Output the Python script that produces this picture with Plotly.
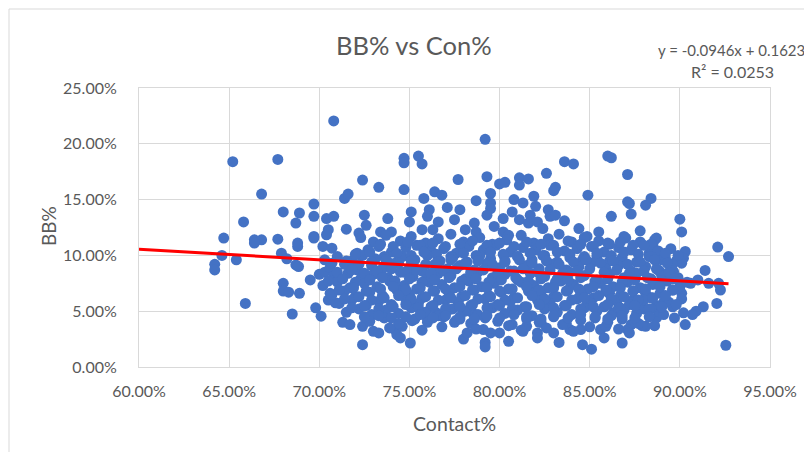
import numpy as np
import plotly.graph_objects as go

# trendline as printed on the chart
slope = -0.0946
intercept = 0.1623

# values in percent (contact %, BB %)
outer_con = [70.8, 79.2, 65.2, 67.7, 74.7, 74.7, 75.5, 75.7, 83.6, 84.1, 86.0, 86.2,
             72.4, 73.3, 74.7, 71.4, 71.6, 66.8, 69.7, 68.9, 69.7, 70.4,
             70.8, 72.5, 72.6, 73.8, 75.1, 75.0, 75.8, 76.1, 76.0, 76.4,
             76.8, 77.1, 77.7, 77.5, 76.6, 70.5, 71.5, 72.2, 73.4, 74.0,
             75.7, 76.3, 68.7, 69.7, 65.8, 68.0]
outer_bb = [22.05, 20.4, 18.4, 18.6, 18.7, 18.3, 18.9, 18.2, 18.4, 18.2, 18.9, 18.75,
            16.75, 16.1, 15.9, 15.1, 15.5, 15.5, 14.6, 13.8, 13.5, 13.3,
            13.5, 13.6, 12.7, 13.3, 13.9, 13.0, 15.1, 14.1, 13.5, 15.7,
            15.4, 14.3, 16.8, 13.2, 13.0, 12.3, 12.35, 12.0, 12.1, 12.1,
            12.3, 12.3, 12.9, 11.7, 13.0, 13.9]

mid_con = [79.3, 80.0, 80.3, 81.1, 81.6, 81.1, 82.6, 83.1, 83.0, 84.9,
           79.5, 78.7, 79.5, 79.5, 77.8, 79.3, 80.8, 81.3, 81.9, 82.0,
           82.7, 80.7, 81.1, 80.2, 79.7, 81.7, 81.6, 82.1, 82.8, 83.1,
           83.6, 82.4, 84.4, 86.2, 85.5, 78.6, 78.1, 78.7, 80.2, 80.5,
           84.85,
           87.1, 87.1, 87.2, 88.4, 88.1, 87.3, 90.0, 90.1, 87.8, 87.0, 88.7]
mid_bb = [17.05, 16.4, 16.55, 16.95, 16.85, 16.3, 17.35, 16.1, 15.8, 15.4,
          15.55, 14.9, 14.7, 14.2, 14.1, 13.6, 15.0, 14.7, 15.3, 14.4,
          14.1, 13.9, 13.2, 13.3, 12.6, 13.6, 12.9, 13.0, 13.5, 13.6,
          13.1, 12.4, 12.4, 13.5, 12.1, 12.9, 12.3, 12.1, 12.1, 11.8,
          11.7,
          17.25, 14.8, 14.65, 15.1, 14.5, 13.7, 13.25, 12.1, 12.2, 11.55, 11.55]

left_con = [64.7, 64.6, 64.2, 64.2, 65.4, 65.9, 66.4, 66.8, 66.4, 67.7,
            67.9, 68.2, 68.0, 68.0, 68.3, 68.8, 68.8, 68.7, 68.9, 68.5,
            69.7, 70.4, 70.2, 70.7, 72.1, 68.85, 69.5, 70.0, 70.3, 69.8,
            70.1, 70.6, 70.5, 70.9, 71.3, 71.7, 72.4, 72.4, 73.0, 73.3,
            74.2, 74.3, 74.6, 75.05, 75.15, 76.0, 76.5, 77.2, 77.5]
left_bb = [11.55, 10.0, 9.2, 8.7, 9.6, 5.7, 11.4, 11.4, 11.1, 11.45,
           10.2, 9.7, 7.5, 6.8, 6.7, 10.8, 11.1, 9.15, 6.6, 4.75,
           11.55, 11.85, 10.8, 10.65, 10.2, 9.0, 7.8, 8.3, 8.5, 5.3,
           4.55, 6.6, 6.0, 5.75, 4.0, 3.8, 3.65, 2.0, 3.2, 3.05,
           3.35, 2.9, 3.65, 2.15, 4.15, 4.3, 4.85, 5.15, 4.0]

low_con = [79.2, 79.2, 78.0, 78.2, 80.5, 80.0, 81.3, 82.1, 83.3, 83.0,
           84.6, 85.1, 83.9, 84.5, 85.6, 77.8, 78.5, 79.1, 79.5, 81.5,
           82.3, 85.9, 86.3, 86.1, 74.5, 82.1, 85.8]
low_bb = [2.2, 1.8, 2.5, 3.05, 2.3, 3.05, 3.2, 3.05, 2.2, 3.05,
          2.0, 1.6, 3.35, 3.35, 3.35, 4.3, 4.85, 3.35, 3.05, 3.65,
          4.0, 3.65, 4.85, 6.6, 2.6, 2.6, 2.6]

right_con = [88.6, 88.5, 92.1, 92.7, 90.3, 90.2, 90.1, 89.2, 88.3, 88.6,
             88.9, 89.0, 89.65, 91.4, 91.0, 91.6, 92.15, 92.25, 90.1, 92.05,
             91.3, 90.9, 90.7, 90.2, 89.7, 90.3, 88.7, 88.1, 87.9, 87.3,
             87.1, 87.2, 86.8, 92.55, 89.1, 89.6, 88.8, 88.0, 87.4, 88.1,
             88.4, 87.3, 86.6]
right_bb = [11.4, 10.95, 10.75, 9.9, 10.35, 9.75, 9.3, 9.75, 10.2, 9.9,
            8.55, 8.1, 8.55, 8.65, 7.8, 7.5, 7.5, 6.9, 6.6, 5.7,
            5.4, 5.0, 4.7, 4.85, 4.4, 3.8, 4.4, 3.65, 3.7, 3.8,
            3.35, 3.05, 2.15, 1.95, 5.8, 5.4, 5.0, 5.2, 6.0, 6.6,
            6.2, 5.75, 5.3]

# the dense cloud, read band by band from top to bottom
core_con = [
    72.3, 73.0, 73.7, 74.5, 75.1, 75.9, 76.6, 77.3, 78.0, 78.9, 79.6, 80.4, 81.2, 81.9, 82.7, 83.3, 84.0, 84.7, 85.5, 86.1, 86.9, 87.8, 88.4,
    72.7, 73.3, 74.0, 74.8, 75.4, 76.2, 76.9, 77.6, 78.3, 79.1, 79.8, 80.6, 81.3, 82.0, 82.8, 83.6, 84.3, 85.1, 85.8, 86.6, 87.3, 88.0, 88.8, 89.5,
    70.3, 71.0, 71.8, 72.4, 73.1, 73.8, 74.6, 75.3, 76.0, 76.7, 77.4, 78.2, 78.9, 79.5, 80.3, 81.0, 81.8, 82.5, 83.2, 83.9, 84.6, 85.4, 86.1, 86.8, 87.6, 88.3, 89.0, 89.8,
    70.6, 71.4, 72.1, 72.9, 73.5, 74.2, 75.0, 75.7, 76.4, 77.1, 77.8, 78.6, 79.3, 80.0, 80.8, 81.5, 82.2, 82.9, 83.7, 84.4, 85.1, 85.9, 86.6, 87.3, 88.1, 88.8, 89.6,
    70.8, 71.6, 72.3, 73.0, 73.8, 74.5, 75.2, 75.9, 76.6, 77.3, 78.1, 78.8, 79.6, 80.3, 81.0, 81.7, 82.5, 83.2, 83.9, 84.7, 85.4, 86.1, 86.9, 87.6, 88.4, 89.1, 89.9,
    70.2, 71.0, 71.7, 72.5, 73.2, 73.9, 74.7, 75.4, 76.1, 76.8, 77.5, 78.3, 79.0, 79.7, 80.5, 81.2, 81.9, 82.7, 83.4, 84.1, 84.9, 85.6, 86.3, 87.1, 87.8, 88.5, 89.3, 90.0, 90.6,
    70.7, 71.4, 72.0, 72.8, 73.5, 74.3, 75.0, 75.7, 76.4, 77.2, 77.9, 78.6, 79.4, 80.1, 80.8, 81.6, 82.3, 83.0, 83.8, 84.5, 85.2, 86.0, 86.7, 87.4, 88.2, 88.9, 89.6,
    71.1, 71.8, 72.6, 73.3, 74.0, 74.8, 75.5, 76.2, 77.0, 77.7, 78.4, 79.2, 79.9, 80.6, 81.4, 82.1, 82.8, 83.6, 84.3, 85.0, 85.8, 86.5, 87.2, 88.0, 88.7, 89.4, 90.1,
    71.5, 72.2, 72.9, 73.7, 74.4, 75.1, 75.9, 76.6, 77.4, 78.1, 78.8, 79.6, 80.3, 81.0, 81.8, 82.5, 83.2, 84.0, 84.7, 85.4, 86.2, 86.9, 87.6, 88.4, 89.1,
    72.8, 73.6, 74.4, 75.3, 76.0, 76.9, 77.6, 78.4, 79.2, 79.9, 80.7, 81.5, 82.2, 83.0, 83.7, 84.5, 85.3, 86.0, 86.8, 87.7,
    73.9, 75.7, 76.8, 78.7, 80.5, 81.2, 82.6, 83.5, 84.1, 85.0, 86.6, 88.6,
]
core_bb = [
    11.6, 11.2, 11.8, 11.3, 11.7, 11.1, 11.5, 11.9, 11.2, 11.6, 11.0, 11.4, 11.8, 11.1, 11.5, 11.9, 11.2, 11.6, 11.3, 11.0, 11.7, 11.2, 11.0,
    10.5, 10.8, 10.3, 10.7, 10.9, 10.4, 10.6, 10.2, 10.8, 10.5, 10.9, 10.3, 10.7, 10.5, 10.9, 10.4, 10.6, 10.8, 10.3, 10.7, 10.5, 10.9, 10.4, 10.6,
    9.6, 9.9, 9.5, 10.0, 9.7, 9.4, 9.9, 9.6, 10.0, 9.5, 9.8, 9.4, 10.0, 9.7, 9.5, 9.9, 9.6, 10.0, 9.4, 9.8, 9.6, 9.9, 9.5, 9.8, 9.4, 9.9, 9.6, 9.5,
    8.9, 9.2, 8.7, 9.1, 8.8, 9.3, 8.9, 8.6, 9.2, 8.8, 9.1, 8.7, 9.3, 8.9, 8.6, 9.1, 8.8, 9.2, 8.7, 9.0, 9.3, 8.8, 9.1, 8.6, 9.0, 8.7, 9.2,
    8.1, 8.4, 7.9, 8.3, 8.0, 8.5, 8.1, 7.8, 8.4, 8.2, 7.9, 8.5, 8.0, 8.3, 7.8, 8.4, 8.1, 7.9, 8.5, 8.2, 7.8, 8.3, 8.0, 8.4, 7.9, 8.2, 8.0,
    7.3, 7.6, 7.1, 7.5, 7.2, 7.7, 7.3, 7.0, 7.6, 7.4, 7.1, 7.7, 7.2, 7.5, 7.0, 7.6, 7.3, 7.1, 7.7, 7.4, 7.0, 7.5, 7.2, 7.6, 7.1, 7.4, 7.7, 7.2, 7.5,
    6.5, 6.8, 6.3, 6.7, 6.4, 6.9, 6.5, 6.2, 6.8, 6.6, 6.3, 6.9, 6.4, 6.7, 6.2, 6.8, 6.5, 6.3, 6.9, 6.6, 6.2, 6.7, 6.4, 6.8, 6.3, 6.6, 6.9,
    5.7, 6.0, 5.5, 5.9, 5.6, 6.1, 5.7, 5.4, 6.0, 5.8, 5.5, 6.1, 5.6, 5.9, 5.4, 6.0, 5.7, 5.5, 6.1, 5.8, 5.4, 5.9, 5.6, 6.0, 5.5, 5.8, 6.1,
    4.9, 5.2, 4.7, 5.1, 4.8, 5.3, 4.9, 4.6, 5.2, 5.0, 4.7, 5.3, 4.8, 5.1, 4.6, 5.2, 4.9, 4.7, 5.3, 5.0, 4.6, 5.1, 4.8, 5.2, 4.7,
    4.1, 4.4, 3.9, 4.3, 4.0, 4.5, 4.2, 3.9, 4.4, 4.1, 3.8, 4.3, 4.0, 4.5, 3.9, 4.2, 4.4, 4.0, 4.3, 3.9,
    3.5, 3.3, 3.6, 3.4, 3.7, 3.3, 3.5, 3.8, 3.2, 3.6, 3.4, 3.7,
]

# points hidden between the bands above (the cloud is almost solid there)
fill_con = [
    73.4, 74.1, 74.9, 75.6, 76.3, 77.0, 77.8, 78.5, 79.3, 80.0, 80.8, 81.5, 82.3, 83.0, 83.8, 84.5, 85.2, 86.0, 86.7, 87.4,
    72.0, 72.8, 73.6, 74.3, 75.1, 75.8, 76.5, 77.3, 78.0, 78.7, 79.5, 80.2, 81.0, 81.7, 82.4, 83.2, 83.9, 84.7, 85.4, 86.2, 86.9, 87.7, 88.4, 89.2, 89.9,
    70.7, 71.5, 72.2, 72.9, 73.7, 74.4, 75.1, 75.9, 76.6, 77.3, 78.1, 78.8, 79.6, 80.3, 81.1, 81.8, 82.6, 83.3, 84.1, 84.8, 85.6, 86.3, 87.1, 87.8, 88.6, 89.3,
    71.0, 71.8, 72.5, 73.2, 74.0, 74.7, 75.4, 76.2, 76.9, 77.6, 78.4, 79.1, 79.9, 80.6, 81.3, 82.1, 82.8, 83.5, 84.3, 85.0, 85.8, 86.5, 87.2, 88.0, 88.7, 89.4,
    70.5, 71.3, 72.0, 72.8, 73.5, 74.2, 75.0, 75.7, 76.4, 77.2, 77.9, 78.7, 79.4, 80.1, 80.9, 81.6, 82.3, 83.1, 83.8, 84.5, 85.3, 86.0, 86.8, 87.5, 88.2, 89.0, 89.7, 90.4,
    71.1, 71.9, 72.6, 73.4, 74.1, 74.8, 75.6, 76.3, 77.0, 77.8, 78.5, 79.3, 80.0, 80.7, 81.5, 82.2, 83.0, 83.7, 84.4, 85.2, 85.9, 86.7, 87.4, 88.1, 88.9, 89.6,
    71.4, 72.2, 72.9, 73.6, 74.4, 75.1, 75.9, 76.6, 77.3, 78.1, 78.8, 79.5, 80.3, 81.0, 81.8, 82.5, 83.2, 84.0, 84.7, 85.5, 86.2, 86.9, 87.7, 88.5, 89.2,
    71.8, 72.5, 73.3, 74.1, 74.8, 75.5, 76.3, 77.0, 77.8, 78.5, 79.3, 80.0, 80.7, 81.5, 82.2, 83.0, 83.7, 84.5, 85.2, 86.0, 86.7, 87.5, 88.3, 89.0, 89.8,
    72.5, 73.3, 74.0, 74.8, 75.6, 76.3, 77.0, 77.8, 78.6, 79.3, 80.0, 80.8, 81.5, 82.3, 83.0, 83.8, 84.5, 85.3, 86.0, 86.8, 87.5, 88.3,
]
fill_bb = [
    11.0, 10.8, 11.2, 10.9, 11.1, 10.8, 11.0, 11.3, 10.9, 11.1, 10.8, 11.2, 11.0, 10.9, 11.3, 11.0, 10.8, 11.1, 11.2, 10.9,
    10.1, 10.3, 9.9, 10.2, 10.0, 10.3, 10.1, 9.9, 10.2, 10.0, 10.3, 10.1, 9.9, 10.2, 10.0, 10.3, 10.1, 9.9, 10.2, 10.0, 10.3, 10.1, 9.9, 10.2, 10.0,
    9.3, 9.5, 9.2, 9.4, 9.6, 9.3, 9.5, 9.2, 9.4, 9.6, 9.3, 9.5, 9.2, 9.4, 9.6, 9.3, 9.5, 9.2, 9.4, 9.6, 9.3, 9.5, 9.2, 9.4, 9.6, 9.3,
    8.5, 8.7, 8.4, 8.6, 8.8, 8.5, 8.7, 8.4, 8.6, 8.8, 8.5, 8.7, 8.4, 8.6, 8.8, 8.5, 8.7, 8.4, 8.6, 8.8, 8.5, 8.7, 8.4, 8.6, 8.8, 8.5,
    7.7, 7.9, 7.6, 7.8, 8.0, 7.7, 7.9, 7.6, 7.8, 8.0, 7.7, 7.9, 7.6, 7.8, 8.0, 7.7, 7.9, 7.6, 7.8, 8.0, 7.7, 7.9, 7.6, 7.8, 8.0, 7.7, 7.9, 7.6,
    6.9, 7.1, 6.8, 7.0, 7.2, 6.9, 7.1, 6.8, 7.0, 7.2, 6.9, 7.1, 6.8, 7.0, 7.2, 6.9, 7.1, 6.8, 7.0, 7.2, 6.9, 7.1, 6.8, 7.0, 7.2, 6.9,
    6.1, 6.3, 6.0, 6.2, 6.4, 6.1, 6.3, 6.0, 6.2, 6.4, 6.1, 6.3, 6.0, 6.2, 6.4, 6.1, 6.3, 6.0, 6.2, 6.4, 6.1, 6.3, 6.0, 6.2, 6.4,
    5.3, 5.5, 5.2, 5.4, 5.6, 5.3, 5.5, 5.2, 5.4, 5.6, 5.3, 5.5, 5.2, 5.4, 5.6, 5.3, 5.5, 5.2, 5.4, 5.6, 5.3, 5.5, 5.2, 5.4, 5.6,
    4.5, 4.6, 4.4, 4.5, 4.7, 4.4, 4.6, 4.5, 4.3, 4.6, 4.4, 4.7, 4.5, 4.3, 4.6, 4.4, 4.7, 4.5, 4.3, 4.6, 4.4, 4.5,
]

groups = [(outer_con, outer_bb), (mid_con, mid_bb), (left_con, left_bb),
          (low_con, low_bb), (right_con, right_bb), (core_con, core_bb),
          (fill_con, fill_bb)]
for i, (gx, gy) in enumerate(groups):
    assert len(gx) == len(gy), (i, len(gx), len(gy))

contact = np.concatenate([g[0] for g in groups]) / 100
bb = np.concatenate([g[1] for g in groups]) / 100

x_fit = np.array([0.60, contact.max()])
y_fit = slope * x_fit + intercept

FONT = "Lato, 'Open Sans', sans-serif"
GREY = "#595959"

fig = go.Figure()
fig.add_trace(go.Scatter(
    x=contact, y=bb, mode="markers",
    marker=dict(color="#4472C4", size=11, line=dict(width=0)),
    showlegend=False, hoverinfo="skip",
))
fig.add_trace(go.Scatter(
    x=x_fit, y=y_fit, mode="lines",
    line=dict(color="#FF0000", width=3),
    showlegend=False, hoverinfo="skip",
))

# plot area: x 131..762, y 80..359 in an 812x452 page
L, R, T, B = 131, 812 - 762, 80, 452 - 359
W, H = 812 - L - R, 452 - T - B


def px(x):
    return (x - L) / W


def py(y):
    return (452 - B - y) / H


fig.update_layout(
    width=812, height=452,
    margin=dict(l=L, r=R, t=T, b=B),
    paper_bgcolor="white", plot_bgcolor="white",
    font=dict(family=FONT, color=GREY),
    xaxis=dict(
        range=[0.60, 0.95], dtick=0.05, tick0=0.60, tickformat=".2%",
        showgrid=True, gridcolor="#d9d9d9", gridwidth=1, zeroline=False,
        showline=True, linecolor="#d9d9d9", linewidth=1, mirror=True,
        tickfont=dict(size=16, color=GREY), ticklabelstandoff=10,
    ),
    yaxis=dict(
        range=[0, 0.25], dtick=0.05, tick0=0, tickformat=".2%",
        showgrid=True, gridcolor="#d9d9d9", gridwidth=1, zeroline=False,
        showline=True, linecolor="#d9d9d9", linewidth=1, mirror=True,
        tickfont=dict(size=16, color=GREY), ticklabelstandoff=18,
    ),
    annotations=[
        dict(text="BB% vs Con%", x=px(406), y=py(37), xref="paper", yref="paper",
             showarrow=False, font=dict(size=25.5, color=GREY), xanchor="center", yanchor="middle"),
        dict(text="y = -0.0946x + 0.1623", x=px(723), y=py(42), xref="paper", yref="paper",
             showarrow=False, font=dict(size=15, color=GREY), xanchor="center", yanchor="middle"),
        dict(text="R² = 0.0253", x=px(724), y=py(64), xref="paper", yref="paper",
             showarrow=False, font=dict(size=16, color=GREY), xanchor="center", yanchor="middle"),
        dict(text="Contact%", x=0.5, y=py(415), xref="paper", yref="paper",
             showarrow=False, font=dict(size=19.5, color=GREY), xanchor="center", yanchor="middle"),
        dict(text="BB%", x=px(40), y=py(218), xref="paper", yref="paper", textangle=-90,
             showarrow=False, font=dict(size=19, color=GREY), xanchor="center", yanchor="middle"),
    ],
    shapes=[
        dict(type="rect", xref="paper", yref="paper",
             x0=px(1), x1=px(811), y0=py(451), y1=py(1),
             line=dict(color="#d9d9d9", width=1), fillcolor="rgba(0,0,0,0)", layer="below"),
    ],
)

fig.write_html("out.html")
